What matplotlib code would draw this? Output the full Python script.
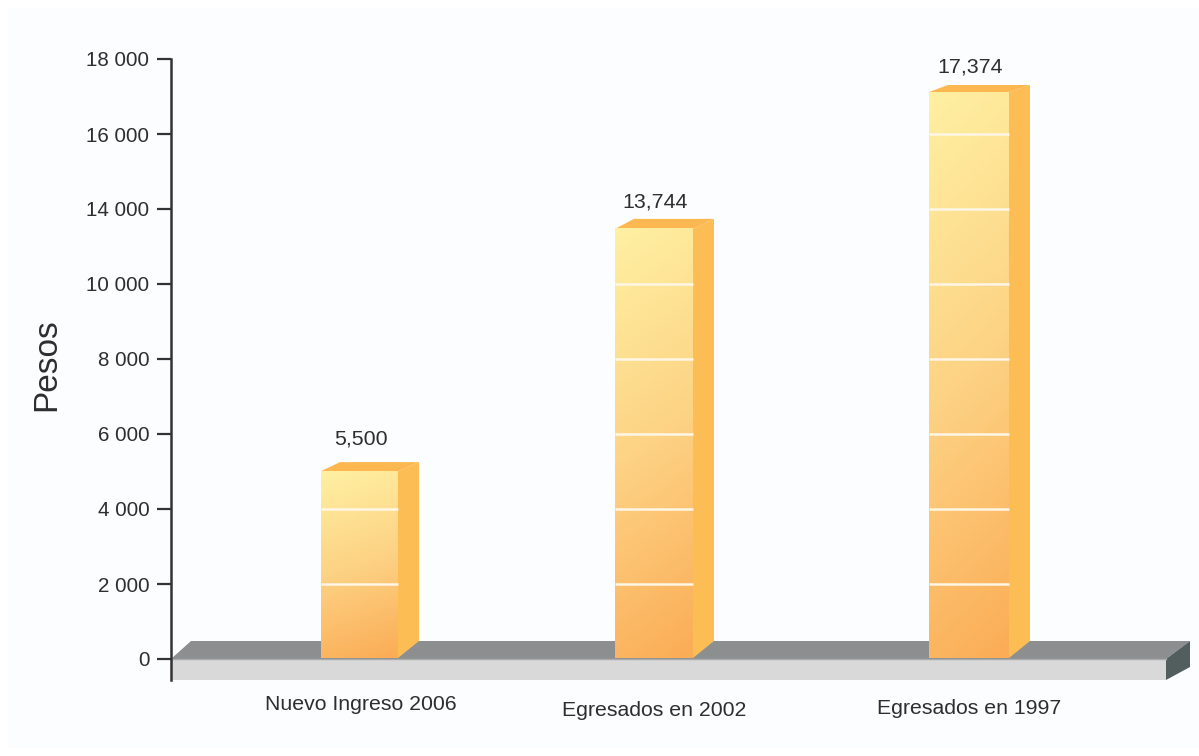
import matplotlib
matplotlib.use('Agg')
import matplotlib.pyplot as plt
import numpy as np
from matplotlib.colors import LinearSegmentedColormap
from matplotlib.patches import Polygon, Rectangle

plt.rcParams['font.family'] = ['Liberation Sans', 'DejaVu Sans']

# Datos. El eje original salta de 10 000 a 14 000,
# asi que las alturas estan en posiciones del eje, no en pesos
categorias = ['Nuevo Ingreso 2006', 'Egresados en 2002', 'Egresados en 1997']
etiquetas_valor = ['5,500', '13,744', '17,374']
alturas = [5010, 11470, 15120]
ticks = [0, 2000, 4000, 6000, 8000, 10000, 12000, 14000, 16000]
tick_labels = ['0', '2 000', '4 000', '6 000', '8 000', '10 000', '14 000', '16 000', '18 000']

# Layout en pixeles de la figura
W, H = 1199, 756
X_IZQ, X_DER = 171, 1190
Y_TOP, Y_CERO, Y_BASE = 59, 659, 680
centros = [359.5, 654, 969]
anchos = [77, 78, 80]
alto_tapa = [9, 10, 7]
sep_texto = [32, 27, 25]
categ_x = [361, 654.5, 969.5]
categ_y = [703, 709, 708]
prof = 21
UNID_PX = 16000 / (Y_CERO - Y_TOP)
COLOR_TEXTO = '#2e2e2e'

fig = plt.figure(figsize=(W / 100, H / 100), dpi=100, facecolor='white')
fig.patches.append(Rectangle((8 / W, 0.01), 1 - 8 / W, 0.98, transform=fig.transFigure,
                             facecolor='#fcfdff', edgecolor='none', zorder=-5))

ax = fig.add_axes([X_IZQ / W, 1 - Y_BASE / H, (X_DER - X_IZQ) / W, (Y_BASE - Y_TOP) / H])
ax.patch.set_alpha(0)
y_min = -(Y_BASE - Y_CERO) * UNID_PX


def px(d):
    '''Convierte pixeles verticales a unidades del eje'''
    return d * UNID_PX


# Plataforma gris
ax.add_patch(Polygon([(X_IZQ, 0), (X_IZQ + 20, px(18)), (X_DER, px(18)), (1166, 0)],
                     facecolor='#8c8e8f', edgecolor='none', zorder=1))
ax.add_patch(Rectangle((X_IZQ, y_min), 1166 - X_IZQ, -y_min, facecolor='#d9d9d9',
                       edgecolor='none', zorder=1))
ax.add_patch(Polygon([(1166, 0), (X_DER, px(18)), (X_DER, px(-8)), (1166, y_min)],
                     facecolor='#525e5e', edgecolor='none', zorder=1))
ax.plot([X_IZQ, 1166], [0, 0], color='#a9abab', lw=1, zorder=1.5)

# Degradado diagonal de las barras
cmap = LinearSegmentedColormap.from_list('barra', ['#fff0a2', '#fdd284', '#fbac55'])
u, v = np.meshgrid(np.linspace(0, 1, 80), np.linspace(0, 1, 200))
degradado = 0.88 * v + 0.12 * u

for i in range(len(categorias)):
    c, h, ancho, tapa = centros[i], alturas[i], anchos[i], alto_tapa[i]
    x0, x1 = c - ancho / 2, c + ancho / 2
    base = px(1)
    # lateral y tapa
    ax.add_patch(Polygon([(x1, h), (x1 + prof, h + px(tapa)), (x1 + prof, px(18)), (x1, base)],
                         facecolor='#fdbd55', edgecolor='none', zorder=2))
    ax.add_patch(Polygon([(x0, h), (x0 + prof - 2, h + px(tapa)), (x1 + prof, h + px(tapa)), (x1, h)],
                         facecolor='#fcb751', edgecolor='none', zorder=2))
    # frente
    ax.imshow(degradado, extent=(x0, x1, base, h), origin='upper', aspect='auto',
              cmap=cmap, vmin=0, vmax=1, zorder=3)
    # lineas de la rejilla sobre la barra
    lineas = [t for t in ticks if 0 < t < h]
    ax.hlines(lineas, x0, x1, color='#fff6e6', lw=1.8, zorder=4)
    ax.text(c + 1, h + px(sep_texto[i]), etiquetas_valor[i], ha='center', va='center',
            fontsize=15.4, color=COLOR_TEXTO)
    fig.text(categ_x[i] / W, 1 - (categ_y[i] + 1) / H, categorias[i], ha='center', va='center',
             fontsize=15.3, color=COLOR_TEXTO)

ax.set_xlim(X_IZQ, X_DER)
ax.set_ylim(y_min, 16000)

# Ejes
for lado in ['top', 'right', 'bottom']:
    ax.spines[lado].set_visible(False)
ax.spines['left'].set_linewidth(1.8)
ax.spines['left'].set_color('#333333')
ax.spines['left'].set_zorder(6)
ax.set_xticks([])
ax.set_yticks(ticks)
ax.set_yticklabels(tick_labels, fontsize=14.8, color=COLOR_TEXTO)
ax.tick_params(axis='y', length=10, width=1.6, color='#333333', pad=5.5)

fig.text(47 / W, 1 - 365 / H, 'Pesos', rotation=90, ha='center', va='center',
         fontsize=24, color=COLOR_TEXTO)

fig.savefig('out.png', dpi=100)
